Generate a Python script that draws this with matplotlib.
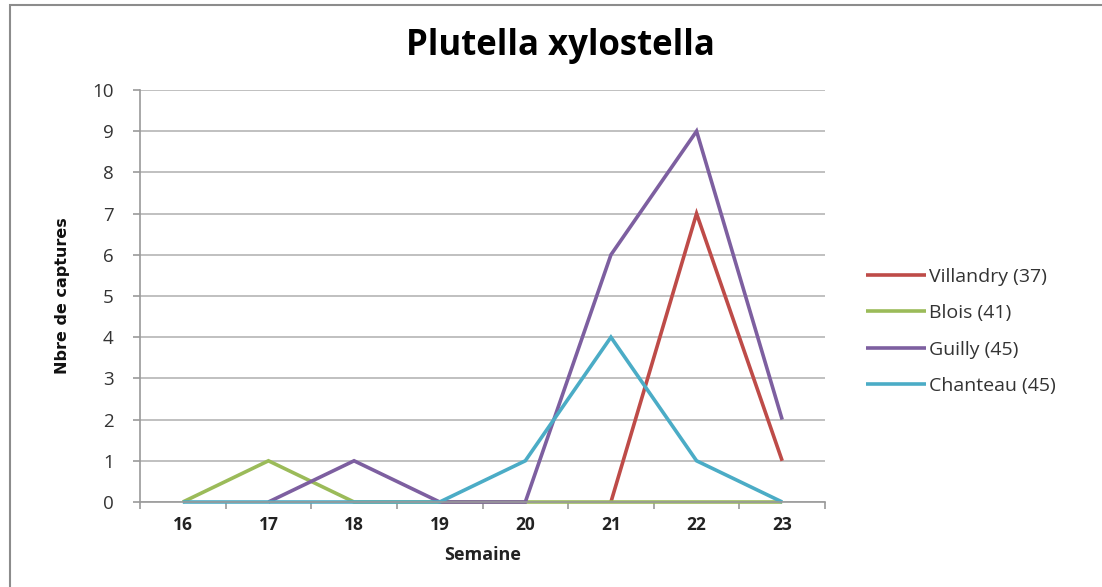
import matplotlib
matplotlib.use("Agg")
import matplotlib.pyplot as plt
from matplotlib.patches import Rectangle

weeks = [16, 17, 18, 19, 20, 21, 22, 23]
villandry_weeks = [21, 22, 23]
villandry = [0, 7, 1]
blois_weeks = [16, 17, 18, 19, 20, 21, 22, 23]
blois = [0, 1, 0, 0, 0, 0, 0, 0]
guilly_weeks = [17, 18, 19, 20, 21, 22, 23]
guilly = [0, 1, 0, 0, 6, 9, 2]
chanteau_weeks = [16, 17, 18, 19, 20, 21, 22, 23]
chanteau = [0, 0, 0, 0, 1, 4, 1, 0]
labels = ["Villandry (37)", "Blois (41)", "Guilly (45)", "Chanteau (45)"]
colors = ["#BE4B48", "#9BBB59", "#7D5FA0", "#4BACC6"]

W, H = 1102, 587
fig = plt.figure(figsize=(W / 100, H / 100), dpi=100)
fig.patch.set_facecolor("white")
# outer chart border (left and top visible)
fig.patches.append(Rectangle((10 / W, -0.05), 1.2, 1 - 5 / H + 0.05,
                             transform=fig.transFigure, fill=False,
                             edgecolor="#8c8c8c", linewidth=1.5))

ax = fig.add_axes([140 / W, 1 - 502 / H, (825 - 140) / W, (502 - 90) / H])

series = [(villandry_weeks, villandry), (blois_weeks, blois),
          (guilly_weeks, guilly), (chanteau_weeks, chanteau)]
for (xs, ys), lab, col in zip(series, labels, colors):
    ax.plot(xs, ys, color=col, linewidth=2.6, label=lab, solid_capstyle="butt",
            solid_joinstyle="miter", clip_on=False)

ax.set_xlim(15.5, 23.5)
ax.set_ylim(0, 10)
ax.set_yticks(range(0, 11))
ax.set_xticks(weeks)
ax.set_xticks([w + 0.5 for w in [15] + weeks], minor=True)
ax.grid(axis="y", color="#b5b5b5", linewidth=1.2)
ax.set_axisbelow(True)

for s in ["top", "right"]:
    ax.spines[s].set_visible(False)
for s in ["left", "bottom"]:
    ax.spines[s].set_color("#9a9a9a")
    ax.spines[s].set_linewidth(1.2)

ax.tick_params(axis="x", which="major", length=0, pad=10, labelcolor="#222222")
ax.tick_params(axis="x", which="minor", length=5, color="#9a9a9a", width=1.2,
               direction="out")
ax.tick_params(axis="y", length=5, color="#9a9a9a", width=1.2, pad=14,
               labelcolor="#333333")
for t in ax.get_xticklabels():
    t.set_fontfamily(["Open Sans", "DejaVu Sans"])
    t.set_fontsize(12.5)
    t.set_fontweight("bold")
for t in ax.get_yticklabels():
    t.set_fontfamily(["Open Sans", "DejaVu Sans"])
    t.set_fontsize(13.5)

ax.set_xlabel("Semaine", fontsize=13, fontweight="bold",
              family=["Open Sans", "DejaVu Sans"], color="#222222", labelpad=9)
ax.set_ylabel("Nbre de captures", fontsize=11.5, fontweight="bold",
              family=["Liberation Sans Narrow", "DejaVu Sans"], color="#111111",
              labelpad=16)

fig.text(560 / W, 1 - 46 / H, "Plutella xylostella", ha="center", va="center",
         fontsize=25, fontweight="bold", family=["Open Sans", "DejaVu Sans"],
         color="#000000")

leg = fig.legend(loc="upper left", bbox_to_anchor=(858 / W, 1 - 260 / H),
                 frameon=False, prop=dict(family=["Open Sans", "DejaVu Sans"], size=14),
                 handlelength=3.1, handletextpad=0.15, labelspacing=0.95,
                 borderaxespad=0)
for t in leg.get_texts():
    t.set_color("#333333")

fig.savefig("out.png", dpi=100)
